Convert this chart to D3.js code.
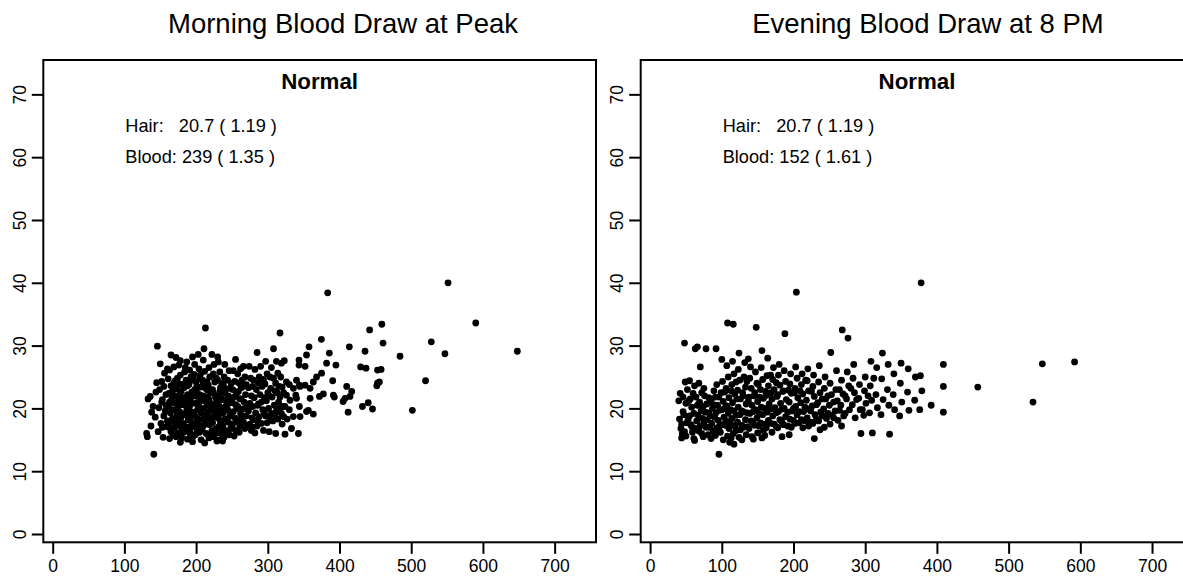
<!DOCTYPE html>
<html>
<head>
<meta charset="utf-8">
<script src="https://cdn.jsdelivr.net/npm/d3@7"></script>
<style>
  html, body { margin: 0; padding: 0; background: #fff; }
  svg { display: block; }
</style>
</head>
<body>
<div id="chart"></div>
<script>
/* ── DATA ── */
const X_TICKS = [0, 100, 200, 300, 400, 500, 600, 700];
const Y_TICKS = [0, 10, 20, 30, 40, 50, 60, 70];
const PANEL_TITLES = ['Morning Blood Draw at Peak', 'Evening Blood Draw at 8 PM'];
const GROUP_LABELS = ['Normal', 'Normal'];
const HAIR_TEXT  = ['Hair:   20.7 ( 1.19 )', 'Hair:   20.7 ( 1.19 )'];
const BLOOD_TEXT = ['Blood: 239 ( 1.35 )', 'Blood: 152 ( 1.61 )'];

// [blood, hair]
const morningPoints = [
  [133,21.5],[136,21.9],[131,16],[132,15.5],[140,20.3],[138,19.4],[143,18.6],[137,17.2],[146,29.9],[141,12.7],[145,24.1],[144,22.6],
  [150,27.1],[152,24.3],[149,23],[153,21.4],[148,20.1],[155,18.8],[151,17.6],[147,16.3],[154,15.4],[157,19.6],[158,22.2],[156,25.6],[159,17.1],
  [163,26.1],[161,24.7],[165,23.6],[162,22.4],[166,21.5],[161,20.4],[164,19.3],[167,18.4],[162,17.4],[165,16.3],[163,15.2],[168,20.9],[169,18],
  [172,28.1],[169,26.6],[171,24.4],[173,23.1],[170,22],[174,21],[171,19.8],[173,18.9],[170,17],[174,16.1],[172,15.5],[175,20.4],
  [176,26.9],[178,25.3],[177,23.9],[179,22.7],[176,21.7],[180,20.6],[177,19.5],[179,18.6],[176,17.7],[180,16.6],[178,15.7],[181,21.3],[182,19.1],
  [187,27.4],[184,25.8],[186,24.5],[183,23.3],[188,22.2],[185,21.1],[187,20.1],[184,19],[189,18.2],[186,17.1],[183,16.2],[188,15.1],[185,20.6],
  [191,26.1],[193,25],[190,23.8],[194,22.6],[192,21.4],[191,20.4],[195,19.4],[192,18.4],[194,17.5],[191,16.4],[195,15.4],[193,21.9],[190,19.9],
  [198,27],[197,25.4],[200,24.2],[198,23],[201,21.9],[199,20.8],[202,19.8],[198,18.9],[200,17.8],[203,16.8],[199,15.8],[201,22.5],[204,20.3],
  [204,26.3],[205,24.7],[206,23.4],[205,22.2],[207,21.2],[204,18.2],[206,17.2],[205,16.2],[207,15],
  [213,32.8],[211,29.5],[210,27.7],[212,25.9],[209,24.5],[213,23.2],[210,22],[214,21],[211,20],[215,19],[212,18],[209,17],[214,16],[212,14.5],[216,20.5],
  [218,26.5],[219,25],[217,23.7],[220,22.5],[218,21.4],[221,20.4],[217,19.4],[220,18.4],[219,17.4],[222,16.4],[218,15.3],[216,22.9],
  [225,27],[224,25.5],[226,24.2],[223,23],[227,21.8],[224,20.7],[228,19.7],[225,18.7],[223,17.7],[227,16.7],[225,15.5],[229,14.8],[226,20.2],
  [231,27.4],[233,25.8],[230,24.5],[234,23.3],[232,22.1],[230,21],[235,20],[232,19],[234,18],[231,17],[235,16],[233,15],[236,21.5],
  [239,25],[238,23.8],[240,22.5],[237,21.4],[241,20.3],[238,19.3],[240,18.3],[237,17.3],[241,16.3],[239,15.4],
  [246,26],[244,24.5],[247,23.2],[245,22],[248,20.9],[244,19.8],[247,18.8],[245,17.8],[248,16.8],[246,15.8],[243,21.4],
  [252,26],[254,24.3],[251,23],[253,21.8],[255,20.6],[252,19.5],[254,18.5],[251,17.5],[255,16.5],[253,15.6],
  [258,25.5],[260,24],[259,22.7],[261,21.5],[258,20.3],[262,19.2],[259,18.2],[261,17.2],[260,16.2],[263,23.3],
  [266,26.7],[268,25],[265,23.5],[269,22.2],[267,21],[265,19.9],[270,18.8],[266,17.8],[268,16.8],
  [274,26.7],[276,24.8],[273,23.3],[277,22],[275,20.8],[273,19.6],[278,18.5],[275,17.5],[277,16.5],
  [285,28.9],[282,26.2],[280,24.5],[284,23],[281,21.7],[286,20.5],[283,19.3],[280,18.2],[285,17.2],[282,16.1],
  [290,26.7],[288,25],[292,23.5],[289,22.2],[291,21],[293,19.8],[288,18.7],[291,17.6],[294,16.5],
  [297,27.5],[299,25.5],[296,23.9],[300,22.5],[298,21.2],[301,20],[297,18.8],[299,17.7],[302,16.3],
  [308,29.5],[305,26.5],[308,24.8],[304,23.2],[306,21.8],[309,20.5],[305,19.2],[307,18],[311,16],
  [317,32],[312,27.5],[314,25.6],[311,24],[313,22.5],[315,21],[312,19.6],[314,18.3],
  [319,27.2],[323,27.6],[318,25],[320,23.4],[317,21.8],[321,20.3],[319,19.2],[320,17.5],[324,15.9],
  [326,24.2],[326,22.1],[324,20.3],[327,18.3],[335.7,23.2],[331,21.3],[335.6,18.7],[333,16.8],
  [340,24.5],[343.5,27.7],[343.5,26.9],[344,23.7],[339,22.1],[340,21.6],[344,20.3],[345,18.7],[342.7,16],
  [352,26.7],[345,23.5],[352,23.7],[359,23.2],[363.5,24.2],[368,25],[375,25.6],[357.5,29.8],[354,28.5],[374.7,31],
  [385.8,28.8],[382,27.2],[395,26.9],[390.5,24.4],[359,21.6],[372,21.9],[377.5,22.3],[391.4,22.1],[392.8,21.8],
  [356.5,19.7],[363.5,19.1],[354,19.5],[410,23.5],[417,22.7],[414.6,21.9],[407.7,21.6],[405,21.1],[412,19.4],
  [432,20.3],[440,20.9],[446,19.9],[429.5,26.6],[437,26.4],[453,26.1],[458,26.2],[453,24],[455.6,24.2],[452,23.6],
  [413.7,29.8],[435.6,29.1],[442,32.5],[459,33.4],[460.7,30.4],[484.4,28.3],[501.6,19.7],[520,24.4],[528,30.6],
  [547,28.7],[551.4,40],[590,33.6],[648,29.1],[383.5,38.4],
  [152,21],[155,23.5],[153,17],[158,20.5],[160,18],[163,21],[167,22.8],[166,19.8],[164,16.8],[169,24],[168,15.8],
  [174,24.8],[177,22.2],[175,19],[178,17.2],[174,18.2],[181,23.8],[183,21.7],[182,17.6],[180,15.3],[185,26.5],
  [188,23.6],[187,19.6],[189,16.7],[192,24.4],[194,20.8],[193,18.9],[192,15.9],[196,22],[197,17.1],[196,24.8],
  [201,23.5],[203,20.9],[202,18.4],[201,16.2],[206,25.4],[208,21.7],[207,19.3],[208,16.6],[210,23.8],[211,18.5],
  [215,24.2],[216,21.8],[214,17.5],[217,15.8],[219,23],[221,19.8],[222,17.8],[224,22.4],[226,19.2],[225,16.2],
  [228,24.8],[229,21.3],[230,18.5],[229,16.1],[233,22.7],[232,20.4],[234,17.5],[236,24],[237,19.8],[238,16.8],
  [242,23.1],[243,20.6],[242,18.3],[244,16.3],[249,24],[250,21.4],[249,19.2],[250,17],[256,22.3],[257,20],[256,17.9],
  [264,24.5],[263,21.5],[264,18.5],[270,23.8],[271,20.3],[272,17.3],[279,23.5],[279,20.3],[279,17],[287,24],[287,20.7],[286,18],
  [294,24.6],[295,21.7],[295,19.3],[303,25],[302,22],[302,18.6],[310,22.8],[310,19],[316,23.5],[316,20],[322,22.5],[322,18.7],
  [330,23.8],[330,19.8],[160,26.3],[178,27.6],[195,28.2],[222,28.6],[240,27],[255,27.8],[262,26.3],[178,14.6],[195,14.7],
  [237,14.8],[165,28.5],[203,28.6],[230,28.2]
];

const eveningPoints = [
  [42,22.4],[40,21.2],[44,17.5],[43,16.8],[45,16],[44,15.3],[41,18.3],[46,19.5],
  [48,30.4],[49,24.2],[50,20.8],[47,19],[51,17.7],[48,16.3],[50,15.6],[52,23],
  [56,21.5],[58,20.2],[55,18.8],[57,17.4],[59,16.2],[55,24.4],
  [63,29.5],[66,29.8],[62,23.6],[64,21.8],[66,20.5],[61,19.2],[65,18],[63,16.8],[61,15.2],[62,14.9],
  [70,26.6],[72,22.5],[69,21],[71,19.6],[73,18.4],[70,17.2],[72,16],[68,24],
  [78,29.5],[76,22],[79,20.7],[77,19.4],[80,18.2],[78,17],[81,15.8],[75,23.2],
  [85,21.2],[87,20],[84,18.8],[86,17.6],[88,16.4],[85,15.2],[89,22.8],
  [92,29.5],[93,23.8],[91,21.8],[94,20.5],[92,19.3],[95,18.1],[93,16.9],[91,15.7],
  [96,12.7],
  [100,27.8],[101,24.3],[99,22.5],[102,21.1],[100,19.8],[103,18.6],[101,17.4],[98,16.2],[102,15],
  [108,33.6],[107,26.8],[109,25],[106,23.2],[110,21.7],[107,20.4],[109,19.2],[106,18],[110,16.8],[108,15.6],[111,14.6],
  [116,33.4],[115,27.5],[117,25.5],[114,23.8],[118,22.3],[115,20.9],[117,19.6],[114,18.4],[118,17.2],[116,16],[117,14.3],
  [124,28.8],[123,26.2],[125,24.5],[122,22.9],[126,21.5],[123,20.2],[125,19],[122,17.8],[126,16.6],[124,15.4],
  [132,27.3],[131,25],[133,23.4],[130,22],[134,20.7],[131,19.4],[133,18.2],[130,17],[134,15.8],
  [140,26.6],[139,24.8],[141,23.2],[138,21.8],[142,20.5],[139,19.2],[141,18],[138,16.8],[142,15.5],[137,27.9],
  [148,32.9],[147,25.8],[149,24],[146,22.5],[150,21.1],[147,19.8],[149,18.5],[146,17.3],[150,16.1],
  [156,29.2],[155,26.5],[157,24.6],[154,23],[158,21.6],[155,20.2],[157,19],[154,17.7],[158,16.5],[156,15.3],
  [164,28],[163,25.2],[165,23.6],[162,22.1],[166,20.7],[163,19.4],[165,18.1],[162,16.9],
  [172,26.5],[171,24.6],[173,23],[170,21.5],[174,20.1],[171,18.8],[173,17.5],[170,16.2],
  [180,27],[179,25.3],[181,23.7],[178,22.2],[182,20.8],[179,19.5],[181,18.2],[178,16.9],
  [188,31.9],[187,26],[189,24.3],[186,22.8],[190,21.4],[187,20],[189,18.7],[186,17.4],
  [196,25.5],[195,23.9],[197,22.4],[194,21],[198,19.6],[195,18.3],[197,17],[194,15.8],
  [204,38.5],[203,26.6],[205,24.8],[202,23.2],[206,21.7],[203,20.3],[205,19],[202,17.6],
  [212,25.5],[211,23.8],[213,22.3],[210,20.9],[214,19.5],[211,18.2],[213,16.9],
  [220,26.3],[219,24.4],[221,22.8],[218,21.3],[222,19.9],[219,18.5],[221,17.2],
  [228,25.3],[227,23.5],[229,21.9],[226,20.4],[230,19],[227,17.6],[229,15.2],
  [236,26.8],[235,24.2],[237,22.5],[234,20.9],[238,19.4],[235,18],[237,16.6],
  [244,25],[243,23.2],[245,21.5],[242,19.9],[246,18.4],[243,17],
  [252,28.9],[251,24],[253,22.2],[250,20.5],[254,18.9],[251,17.5],
  [260,26],[259,23],[261,21.2],[258,19.6],[262,18.1],
  [268,32.5],[267,24.5],[269,22.3],[266,20.5],[270,18.8],[267,17.2],
  [276,31.2],[275,25.8],[277,23.6],[274,21.5],[278,19.8],
  [284,27],[283,24.8],[285,22.5],[282,20.6],[286,18.5],
  [292,23.8],[291,21.6],[293,19.8],[294,16],
  [300,25],[299,22.8],[301,20.8],[298,18.9],
  [308,27.5],[307,23.6],[309,21.3],[306,19.3],[310,16.1],
  [316,26.5],[315,22.2],[317,20.1],
  [324,28.8],[323,24.7],[325,21.4],[322,19],
  [332,27],[331,23],[333,20.5],[334,15.9],
  [340,25.5],[339,22.2],[341,19.8],
  [350,27.2],[349,24],[351,21],[348,18.8],
  [360,26.3],[359,22.6],[361,19.7],
  [370,25],[369,21.3],
  [378,40],[377,25.2],[379,22.8],[376,19.8],
  [392,20.5],
  [409,27],[409,23.5],[409,19.4],
  [457,23.4],[534,21],[547,27.1],[592,27.4],
  [46,21.8],[53,18.2],[54,21.2],[58,17.1],[60,22.4],[67,18.9],[68,16.4],[74,20.3],[75,17.6],[74,15.5],[82,19.3],[83,17],
  [82,21.7],[90,18.6],[89,16.2],[88,20.6],[97,19.7],[97,17.2],[96,21.8],[104,20],[105,17.3],[104,22.6],[112,19.8],[112,17.6],
  [113,15.3],[113,22.8],[120,18.9],[120,16.5],[121,21.5],[120,24.2],[128,19.6],[128,17.3],[129,22.5],[128,15],[136,19.3],
  [136,17.1],[137,21.2],[135,24.3],[144,19.5],[144,17.7],[145,22],[144,15.1],[152,19.2],[152,17.2],[153,21.8],[151,23.8],
  [160,20],[160,17.5],[161,22.7],[160,15.7],[168,19.9],[168,17.6],[169,22.5],[168,25.3],[176,19.3],[176,17.1],[177,21.9],
  [176,24.1],[184,19.9],[184,17.8],[185,22.7],[184,15.5],[192,19.4],[192,17.2],[193,22.9],[200,20],[200,18.1],[201,22.5],
  [208,19.5],[208,17.7],[209,22.8],[216,20.2],[216,18],[217,24.5],[224,19.6],[224,17.8],[225,22.7],[232,20.6],[232,18.3],
  [240,21.5],[240,18.8],[248,22],[248,19.2],[256,21],[256,18.5],[264,23],[264,19.7],[272,22],[272,19.2],[280,23.2],
  [288,21.4],[296,19.8],[304,22],[312,24.8]
];

/* ── LAYOUT ── */
const W = 1183, H = 577;
const FONT = "'Liberation Sans', Arial, Helvetica, sans-serif";
const BOX = { left: 43.3, top: 60, width: 552.7, height: 482.3 };
const PANEL_DX = 597.4;
const TITLE_CX = [343, 928];   // page x of the two top titles
const X_DOMAIN = [-13.1, 757.7];
const Y_DOMAIN = [-1.32, 75.47];
const TICK = 11.5;
const DOT_R = 3.4;

const svg = d3.select('#chart').append('svg')
  .attr('width', W).attr('height', H);

/* ── ONE PANEL: box, axes, dots, labels ── */
function drawPanel(i, points) {
  const ox = BOX.left + i * PANEL_DX;
  const g = svg.append('g').attr('transform', `translate(${ox},${BOX.top})`);

  const x = d3.scaleLinear().domain(X_DOMAIN).range([0, BOX.width]);
  const y = d3.scaleLinear().domain(Y_DOMAIN).range([BOX.height, 0]);

  g.append('g').selectAll('circle').data(points).join('circle')
    .attr('cx', d => x(d[0])).attr('cy', d => y(d[1]))
    .attr('r', DOT_R).attr('fill', '#000');

  g.append('g').attr('transform', `translate(0,${BOX.height})`)
    .call(d3.axisBottom(x).tickValues(X_TICKS).tickSize(TICK).tickPadding(6))
    .call(ax => ax.select('.domain').remove())
    .call(ax => ax.selectAll('line').attr('stroke', '#000').attr('stroke-width', 2))
    .call(ax => ax.selectAll('text').attr('fill', '#000')
      .style('font-family', FONT).style('font-size', '17.5px'));

  const yAx = g.append('g')
    .call(d3.axisLeft(y).tickValues(Y_TICKS).tickSize(TICK).tickPadding(6))
    .call(ax => ax.select('.domain').remove())
    .call(ax => ax.selectAll('line').attr('stroke', '#000').attr('stroke-width', 2));
  yAx.selectAll('text')
    .attr('fill', '#000').attr('x', null).attr('dy', null)
    .attr('transform', 'translate(-17.5,0) rotate(-90)')
    .attr('text-anchor', 'middle')
    .style('font-family', FONT).style('font-size', '17.5px');

  g.append('rect')
    .attr('width', BOX.width).attr('height', BOX.height)
    .attr('fill', 'none').attr('stroke', '#000').attr('stroke-width', 2);

  g.append('text')
    .attr('x', TITLE_CX[i] - ox).attr('y', 33 - BOX.top)
    .attr('text-anchor', 'middle')
    .style('font-family', FONT).style('font-size', '27.5px')
    .text(PANEL_TITLES[i]);

  g.append('text')
    .attr('x', BOX.width / 2).attr('y', 89 - BOX.top)
    .attr('text-anchor', 'middle').attr('font-weight', 'bold')
    .style('font-family', FONT).style('font-size', '22.3px')
    .text(GROUP_LABELS[i]);

  [HAIR_TEXT[i], BLOOD_TEXT[i]].forEach((t, k) => {
    g.append('text')
      .attr('x', 82).attr('y', 131.7 - BOX.top + k * 31)
      .style('font-family', FONT).style('font-size', '18.2px')
      .style('white-space', 'pre')
      .text(t);
  });
}

drawPanel(0, morningPoints);
drawPanel(1, eveningPoints);
</script>
</body>
</html>
